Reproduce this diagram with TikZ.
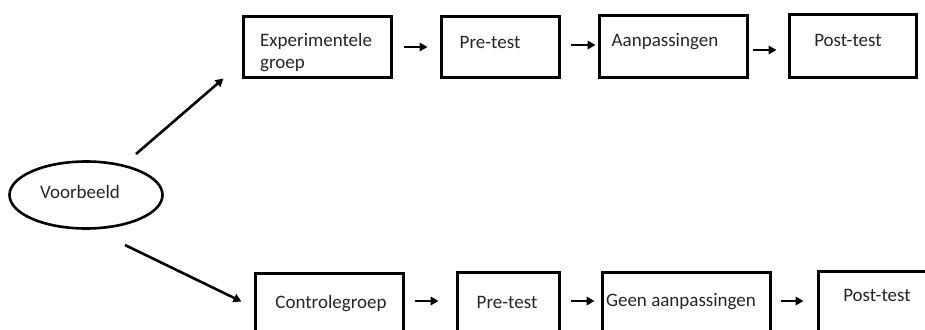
\documentclass[tikz,border=0pt]{standalone}
\usepackage{fontspec}
\setmainfont{Carlito}
\usetikzlibrary{arrows.meta,shapes.geometric}
\begin{document}
\begin{tikzpicture}[x=1pt,y=-1pt,
  box/.style={draw=black,line width=3pt,inner sep=0pt},
  txt/.style={font=\fontsize{19}{21}\selectfont,inner sep=0pt,text=black!85},
  arr/.style={line width=2.6pt,-{Triangle[length=8pt,width=8.5pt]}},
  oval/.style={draw=black,line width=2.6pt,ellipse,inner sep=0pt,minimum width=153pt,minimum height=67pt}]
\useasboundingbox (0,0) rectangle (925,329);
\clip (0,0) rectangle (925,329);
% top row
\node[box,minimum width=148pt,minimum height=60pt] (e) at (317,47) {};
\node[box,minimum width=118pt,minimum height=60pt] (p1) at (500,47) {};
\node[box,minimum width=148pt,minimum height=61pt] (a) at (673,46.5) {};
\node[box,minimum width=127pt,minimum height=62pt] (pt1) at (852.5,46) {};
\node[txt,anchor=base west,align=left] (et) at (260,68) {Experimentele\\groep};
\node[txt] (p1t) at (490,42) {Pre-test};
\node[txt] (at) at (665,42) {Aanpassingen};
\node[txt] (pt1t) at (848,40) {Post-test};
% ellipse
\node[oval] (v) at (86,195) {};
\node[txt] (vt) at (80,192) {Voorbeeld};
% bottom row
\node[box,minimum width=148pt,minimum height=60pt] (c) at (329,303) {};
\node[box,minimum width=102pt,minimum height=60pt] (p2) at (508,302) {};
\node[box,minimum width=168pt,minimum height=60pt] (g) at (686,302) {};
\node[box,minimum width=127pt,minimum height=60pt] (pt2) at (881.5,301) {};
\node[txt] (ct) at (331,304) {Controlegroep};
\node[txt] (p2t) at (507,302) {Pre-test};
\node[txt] (gt) at (681,302) {Geen aanpassingen};
\node[txt] (pt2t) at (877,295) {Post-test};
% arrows
\draw[arr] ([shift={(50,-41)}]v.center) -- ([shift={(-18,0)}]e.south west);
\draw[arr] ([shift={(39,50)}]v.center) -- ([shift={(-12,30)}]c.north west);
\draw[arr] ([xshift=11pt]e.east) -- ([xshift=-12pt]e.east -| p1.west);
\draw[arr] ([shift={(10,-2)}]p1.east) -- ([shift={(-2,-2)}]p1.east -| a.west);
\draw[arr] ([shift={(4,3.5)}]a.east) -- ([shift={(-11,3.5)}]a.east -| pt1.west);
\draw[arr] ([shift={(10,-2)}]c.east) -- ([shift={(-17,-2)}]c.east -| p2.west);
\draw[arr] ([shift={(10,-1)}]p2.east) -- ([shift={(-6,-1)}]p2.east -| g.west);
\draw[arr] ([shift={(9,-1)}]g.east) -- ([shift={(-13,-1)}]g.east -| pt2.west);
\end{tikzpicture}
\end{document}
